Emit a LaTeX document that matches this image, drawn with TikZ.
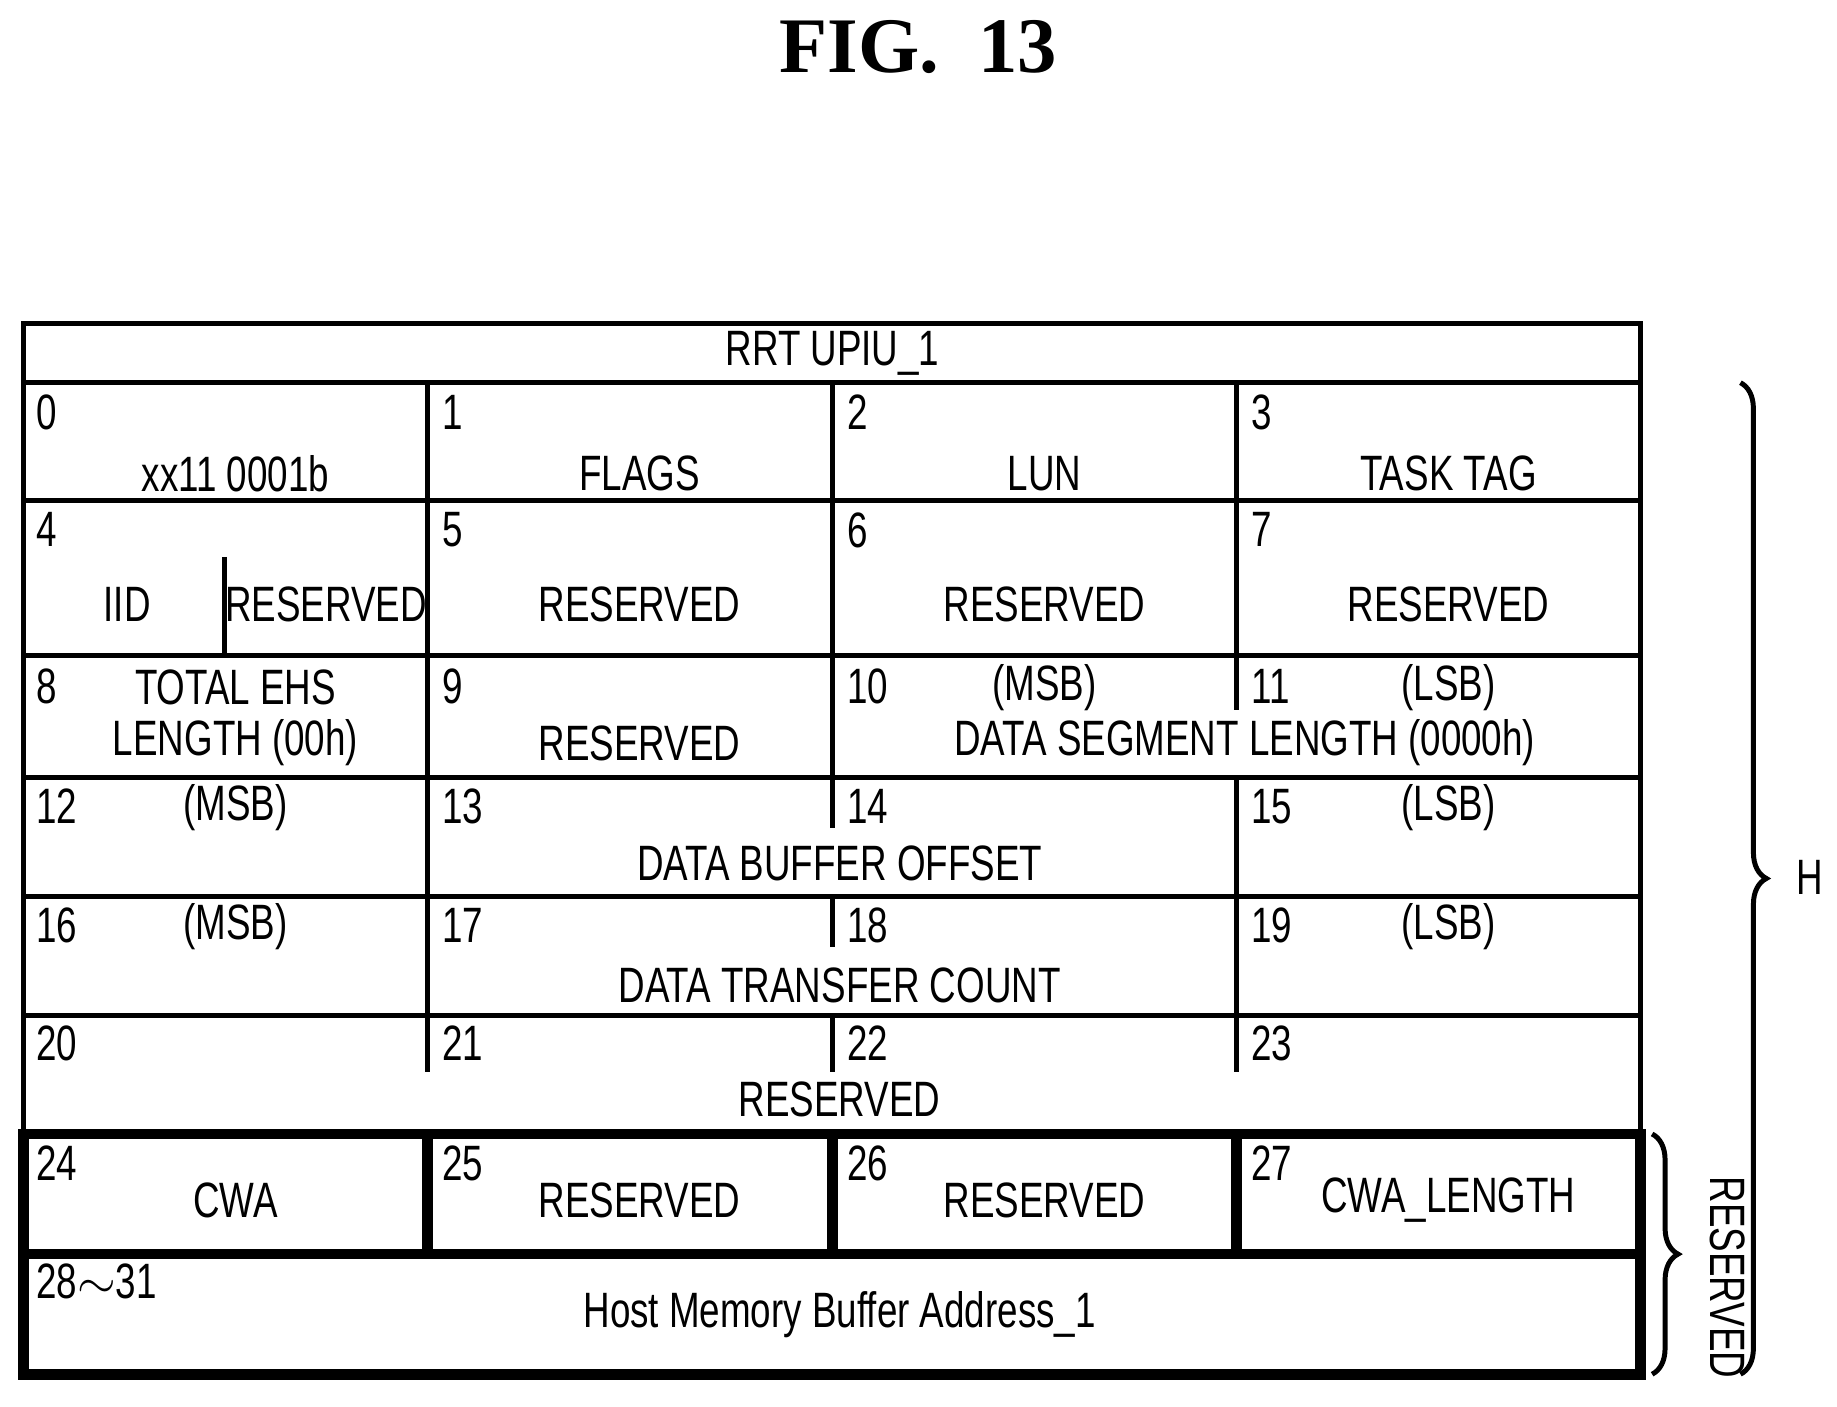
\documentclass[tikz,border=0pt]{standalone}
\usepackage{fontspec}
\newfontfamily\cellfont{Liberation Sans}[FakeStretch=0.74]
\newfontfamily\titlefont{Liberation Serif}
\usetikzlibrary{positioning,calc,decorations.pathreplacing}

\tikzset{
  cell/.style={font=\cellfont\fontsize{12}{14}\selectfont, inner sep=0pt},
  num/.style={cell, anchor=west},
  rule/.style={line width=1.2pt},
  heavy/.style={line width=2.6pt},
  brc/.style={decorate, decoration={brace, amplitude=0.22cm}, line width=1.2pt}
}

\begin{document}
\begin{tikzpicture}[x=0.01cm,y=-0.01cm]
  \useasboundingbox (0,0) rectangle (1560,1194);
  % \draw[step=100,thin,gray!40] (0,0) grid (1560,1194);

  \node[font=\titlefont\bfseries\fontsize{19}{22}\selectfont] (title) at (780,40) {FIG.\ \ 13};

  % frame and rows
  \draw[rule] (20,275) rectangle (1393,963);
  \foreach \y in {325,425,557,660,761,862}
    \draw[rule] (20,\y) -- (1393,\y);
  % full column lines
  \foreach \x in {363,707,1050}
    \draw[rule] (\x,325) -- (\x,557);
  \draw[rule] (363,557) -- (363,862);
  \draw[rule] (707,557) -- (707,660);
  \draw[rule] (1050,660) -- (1050,862);
  % partial column lines
  \draw[rule] (191,473) -- (191,557);
  \draw[rule] (1050,557) -- (1050,603);
  \draw[rule] (707,660) -- (707,703);
  \draw[rule] (707,761) -- (707,804);
  \foreach \x in {363,707,1050}
    \draw[rule] (\x,862) -- (\x,910);

  % heavy block
  \draw[heavy] (20,963) rectangle (1393,1167);
  \draw[heavy] (20,1065) -- (1393,1065);
  \foreach \x in {363,707,1050}
    \draw[heavy] (\x,963) -- (\x,1065);

  \node[cell] (head) at (707,300) {RRT UPIU\_1};

  % byte numbers
  \foreach \n/\x/\y in {0/30/350,1/375/350,2/719/350,3/1062/350,
                        4/30/450,5/375/450,6/719/450,7/1062/450,
                        8/30/583,9/375/583,10/719/583,11/1062/583,
                        12/30/685,13/375/685,14/719/685,15/1062/685,
                        16/30/786,17/375/786,18/719/786,19/1062/786,
                        20/30/886,21/375/886,22/719/886,23/1062/886,
                        24/30/988,25/375/988,26/719/988,27/1062/988}
    \node[num] (b\n) at (\x,\y) {\n};
  \node[num] (b28) at (30,1088) {28$\sim$31};

  % field texts
  \node[cell] (type) at (200,402) {xx11 0001b};
  \node[cell] (flags) at (543,402) {FLAGS};
  \node[cell] (lun) at (887,402) {LUN};
  \node[cell] (tag) at (1230,402) {TASK TAG};

  \node[cell] (iid) at (108,513) {IID};
  \node[cell] (rsvA) at (277,513) {RESERVED};
  \node[cell] (rsvB) at (543,513) {RESERVED};
  \node[cell] (rsvC) at (887,513) {RESERVED};
  \node[cell] (rsvD) at (1230,513) {RESERVED};

  \node[cell] (ehsA) at (200,584) {TOTAL EHS};
  \node[cell] (ehsB) at (200,631) {LENGTH (00h)};
  \node[cell] (rsvE) at (543,631) {RESERVED};
  \node[cell] (msbA) at (887,584) {(MSB)};
  \node[cell] (lsbA) at (1230,584) {(LSB)};
  \node[cell] (dsl) at (1057,631) {DATA SEGMENT LENGTH (0000h)};

  \node[cell] (msbB) at (200,686) {(MSB)};
  \node[cell] (lsbB) at (1230,686) {(LSB)};
  \node[cell] (dbo) at (713,733) {DATA BUFFER OFFSET};

  \node[cell] (msbC) at (200,787) {(MSB)};
  \node[cell] (lsbC) at (1230,787) {(LSB)};
  \node[cell] (dtc) at (713,837) {DATA TRANSFER COUNT};

  \node[cell] (rsvF) at (713,934) {RESERVED};

  \node[cell] (cwa) at (200,1019) {CWA};
  \node[cell] (rsvG) at (543,1019) {RESERVED};
  \node[cell] (rsvH) at (887,1019) {RESERVED};
  \node[cell] (cwalen) at (1230,1019) {CWA\_LENGTH};
  \node[cell] (hmb) at (713,1116) {Host Memory Buffer Address\_1};

  % braces
  \coordinate (hTop) at (1478,325);
  \coordinate (hBot) at (1478,1167);
  \draw[brc] (hTop) -- (hBot);
  \node[cell, anchor=west] (hLbl) at (1525,745) {H};
  \coordinate (rTop) at (1403,963);
  \coordinate (rBot) at (1403,1167);
  \draw[brc] (rTop) -- (rBot);
  \node[cell, rotate=-90] (rLbl) at (1467,1085) {RESERVED};
\end{tikzpicture}
\end{document}
